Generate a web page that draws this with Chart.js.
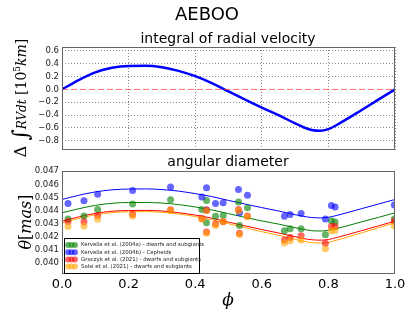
<!DOCTYPE html>
<html>
<head>
<meta charset="utf-8">
<title>AEBOO</title>
<script src="https://cdn.jsdelivr.net/npm/chart.js"></script>
<style>
  body { margin: 0; background: #fff; }
  #wrap { position: relative; width: 415px; height: 312px; }
  #wrap canvas { position: absolute; left: 0; top: 0; }
</style>
</head>
<body>
<div id="wrap">
  <canvas id="rvChart" width="415" height="312"></canvas>
  <canvas id="diamChart" width="415" height="312"></canvas>
</div>
<script>
// --- data ---
const xTicks = [0, 0.2, 0.4, 0.6, 0.8, 1.0];
const rvTicks = [-0.8, -0.6, -0.4, -0.2, 0.0, 0.2, 0.4, 0.6];
const diamTicks = [0.040, 0.041, 0.042, 0.043, 0.044, 0.045, 0.046, 0.047];

// integral of radial velocity
const phaseFit = [0, 0.05, 0.1, 0.15, 0.2, 0.25, 0.3, 0.35, 0.4, 0.45, 0.5, 0.55, 0.6, 0.65, 0.7, 0.725, 0.75, 0.775, 0.8, 0.825, 0.85, 0.9, 0.95, 1.0];
const rvInt = [0, 0.145, 0.265, 0.337, 0.366, 0.368, 0.347, 0.29, 0.207, 0.10, -0.03, -0.16, -0.285, -0.40, -0.53, -0.59, -0.632, -0.645, -0.62, -0.555, -0.48, -0.32, -0.16, 0];

// fitted angular diameter curves
const fitKervA = [0.04382, 0.04413, 0.04439, 0.04455, 0.04461, 0.04461, 0.04457, 0.04445, 0.04427, 0.04404, 0.04376, 0.04347, 0.04320, 0.04296, 0.04268, 0.04255, 0.04245, 0.04243, 0.04248, 0.04262, 0.04278, 0.04313, 0.04347, 0.04382];
const fitKervB = [0.04484, 0.04516, 0.04542, 0.04558, 0.04564, 0.04565, 0.04560, 0.04548, 0.04529, 0.04506, 0.04477, 0.04449, 0.04422, 0.04396, 0.04368, 0.04355, 0.04346, 0.04343, 0.04348, 0.04362, 0.04379, 0.04414, 0.04449, 0.04484];
const fitGraczyk = [0.04318, 0.04351, 0.04378, 0.04394, 0.04400, 0.04401, 0.04396, 0.04383, 0.04365, 0.04341, 0.04311, 0.04282, 0.04254, 0.04228, 0.04199, 0.04185, 0.04176, 0.04173, 0.04178, 0.04193, 0.04210, 0.04246, 0.04282, 0.04318];
const fitSalsi = [0.04306, 0.04339, 0.04367, 0.04384, 0.04390, 0.04391, 0.04386, 0.04373, 0.04354, 0.04329, 0.04299, 0.04268, 0.04238, 0.04210, 0.04179, 0.04164, 0.04154, 0.04151, 0.04156, 0.04173, 0.04191, 0.04229, 0.04268, 0.04306];

// observed angular diameters
const phaseObs = [0.018, 0.066, 0.107, 0.212, 0.326, 0.42, 0.434, 0.434, 0.461, 0.484, 0.53, 0.533, 0.557, 0.668, 0.685, 0.718, 0.791, 0.809, 0.82, 0.998];
const obsKervA = [0.04334, 0.04357, 0.04408, 0.04449, 0.04482, 0.04408, 0.04476, 0.04306, 0.04355, 0.04362, 0.04464, 0.04286, 0.04421, 0.04245, 0.04261, 0.04261, 0.04215, 0.04322, 0.04312, 0.04335];
const obsKervB = [0.04453, 0.04474, 0.04525, 0.04553, 0.04580, 0.04504, 0.04573, 0.04403, 0.04453, 0.04460, 0.04560, 0.04383, 0.04517, 0.04355, 0.04370, 0.04377, 0.04334, 0.04438, 0.04426, 0.04441];
const obsGraczyk = [0.04316, 0.04314, 0.04362, 0.04372, 0.04405, 0.04340, 0.04403, 0.04235, 0.04296, 0.04314, 0.04408, 0.04225, 0.04357, 0.04174, 0.04194, 0.04207, 0.04149, 0.04278, 0.04278, 0.04320];
const obsSalsi = [0.04278, 0.04281, 0.04332, 0.04357, 0.04400, 0.04332, 0.04398, 0.04225, 0.04286, 0.04316, 0.04398, 0.04217, 0.04352, 0.04151, 0.04169, 0.04174, 0.04108, 0.04245, 0.04248, 0.04281];

const seriesNames = [
  'Kervella et al. (2004a) - dwarfs and subgiants',
  'Kervella et al. (2004b) - Cepheids',
  'Graczyk et al. (2021) - dwarfs and subgiants',
  'Salsi et al. (2021) - dwarfs and subgiants'
];
const lineColors = ['#008000', '#0000ff', '#ff0000', '#ffa500'];
const dotColors = ['rgba(0,128,0,0.6)', 'rgba(0,0,255,0.6)', 'rgba(255,0,0,0.6)', 'rgba(255,165,0,0.6)'];

Chart.defaults.font.family = "'DejaVu Sans', sans-serif";
Chart.defaults.color = '#000';

const pts = (xs, ys) => xs.map((x, i) => ({ x: x, y: ys[i] }));
const setTicks = arr => scale => { scale.ticks = arr.map(v => ({ value: v })); };
const fmt = d => v => v.toFixed(d).replace('-', '\u2212');

function drawFrame(chart) {
  const a = chart.chartArea, ctx = chart.ctx;
  ctx.save();
  ctx.strokeStyle = '#666';
  ctx.lineWidth = 1;
  ctx.strokeRect(a.left + 0.5, a.top + 0.5, a.right - a.left - 1, a.bottom - a.top - 1);
  ctx.restore();
}

// draws text pieces one after another along a vertical baseline
function drawVertical(ctx, x, yCenter, pieces) {
  ctx.save();
  let total = 0;
  pieces.forEach(p => { ctx.font = p.font; p.w = ctx.measureText(p.t).width; total += p.w; });
  ctx.translate(x, yCenter);
  ctx.rotate(-Math.PI / 2);
  ctx.fillStyle = '#000';
  ctx.textBaseline = 'alphabetic';
  ctx.textAlign = 'left';
  let cx = -total / 2;
  pieces.forEach(p => {
    ctx.font = p.font;
    ctx.fillText(p.t, cx, p.dy || 0);
    cx += p.w;
  });
  ctx.restore();
}

const rvDecor = {
  id: 'rvDecor',
  afterDraw(chart) {
    const ctx = chart.ctx;
    drawFrame(chart);
    ctx.save();
    ctx.fillStyle = '#000';
    ctx.textAlign = 'center';
    ctx.textBaseline = 'alphabetic';
    ctx.font = "18px 'DejaVu Sans'";
    ctx.fillText('AEBOO', 207, 20);
    ctx.font = "14px 'DejaVu Sans'";
    ctx.fillText('integral of radial velocity', 228, 43);
    ctx.restore();
    drawVertical(ctx, 26, 98, [
      { t: 'Δ ', font: "16px 'DejaVu Serif'" },
      { t: '∫', font: "22px 'DejaVu Serif'", dy: 2 },
      { t: 'RVdt', font: "italic 12px 'DejaVu Serif'" },
      { t: ' [10', font: "14px 'DejaVu Serif'" },
      { t: '5', font: "9px 'DejaVu Serif'", dy: -6 },
      { t: 'km', font: "italic 14px 'DejaVu Serif'" },
      { t: ']', font: "14px 'DejaVu Serif'" }
    ]);
  }
};

const diamDecor = {
  id: 'diamDecor',
  afterDraw(chart) {
    const ctx = chart.ctx;
    drawFrame(chart);
    ctx.save();
    ctx.fillStyle = '#000';
    ctx.textAlign = 'center';
    ctx.textBaseline = 'alphabetic';
    ctx.font = "14px 'DejaVu Sans'";
    ctx.fillText('angular diameter', 228, 166);
    ctx.font = "italic 17px 'DejaVu Serif'";
    ctx.fillText('ϕ', 228, 305);

    // legend box inside the plot
    const bx = 64, by = 238, bw = 135, bh = 35;
    ctx.fillStyle = '#fff';
    ctx.fillRect(bx, by, bw, bh);
    ctx.strokeStyle = '#000';
    ctx.lineWidth = 1;
    ctx.strokeRect(bx + 0.5, by + 0.5, bw, bh);
    ctx.textAlign = 'left';
    ctx.textBaseline = 'middle';
    ctx.font = "5.4px 'DejaVu Sans'";
    seriesNames.forEach((name, i) => {
      const y = by + 7 + i * 7.2;
      ctx.fillStyle = dotColors[i];
      [68, 71.5, 75].forEach(px => {
        ctx.beginPath();
        ctx.arc(px, y, 3, 0, Math.PI * 2);
        ctx.fill();
      });
      ctx.fillStyle = '#222';
      ctx.fillText(name, 81, y);
    });
    ctx.restore();

    drawVertical(ctx, 31, 222, [
      { t: 'θ', font: "italic 16px 'DejaVu Serif'" },
      { t: '[', font: "16px 'DejaVu Serif'" },
      { t: 'mas', font: "italic 16px 'DejaVu Serif'" },
      { t: ']', font: "16px 'DejaVu Serif'" }
    ]);
  }
};

new Chart(document.getElementById('rvChart'), {
  type: 'line',
  data: {
    datasets: [
      {
        data: [{ x: 0, y: 0 }, { x: 1, y: 0 }],
        borderColor: 'rgba(255,60,60,0.75)',
        borderWidth: 1,
        borderDash: [6, 3],
        pointRadius: 0
      },
      {
        data: pts(phaseFit, rvInt),
        borderColor: '#0000ff',
        borderWidth: 2.5,
        pointRadius: 0,
        cubicInterpolationMode: 'monotone'
      }
    ]
  },
  options: {
    responsive: false,
    animation: false,
    devicePixelRatio: 1,
    layout: { padding: { left: 0, right: 20, top: 47, bottom: 162 } },
    plugins: { legend: { display: false }, tooltip: { enabled: false } },
    scales: {
      x: {
        type: 'linear', min: 0, max: 1,
        afterBuildTicks: setTicks(xTicks),
        afterFit: s => { s.height = 0; },
        ticks: { display: false },
        grid: { color: '#888', drawTicks: false },
        border: { display: false, dash: [1, 2] }
      },
      y: {
        min: -0.945, max: 0.662,
        afterBuildTicks: setTicks(rvTicks),
        afterFit: s => { s.width = 62; },
        ticks: { font: { size: 8.5 }, padding: 3, color: '#222', callback: fmt(1) },
        grid: { color: ctx => ctx.tick && ctx.tick.value === 0 ? 'rgba(0,0,0,0)' : '#888', drawTicks: false },
        border: { display: false, dash: [1, 2] }
      }
    }
  },
  plugins: [rvDecor]
});

const fits = [fitKervA, fitKervB, fitGraczyk, fitSalsi];
const obs = [obsKervA, obsKervB, obsGraczyk, obsSalsi];
const diamSets = [];
fits.forEach((f, i) => diamSets.push({
  type: 'line',
  data: pts(phaseFit, f),
  borderColor: lineColors[i],
  borderWidth: 1,
  pointRadius: 0,
  cubicInterpolationMode: 'monotone',
  order: 10
}));
obs.forEach((o, i) => diamSets.push({
  type: 'scatter',
  label: seriesNames[i],
  data: pts(phaseObs, o),
  backgroundColor: dotColors[i],
  borderWidth: 0,
  pointRadius: 3.5,
  order: 4 - i
}));

new Chart(document.getElementById('diamChart'), {
  type: 'scatter',
  data: { datasets: diamSets },
  options: {
    responsive: false,
    animation: false,
    devicePixelRatio: 1,
    layout: { padding: { left: 0, right: 20, top: 171, bottom: 0 } },
    plugins: { legend: { display: false }, tooltip: { enabled: false } },
    scales: {
      x: {
        type: 'linear', min: 0, max: 1,
        afterBuildTicks: setTicks(xTicks),
        afterFit: s => { s.height = 38; },
        ticks: { font: { size: 13 }, padding: 3, color: '#000', callback: fmt(1) },
        grid: { display: false, drawTicks: false },
        border: { display: false }
      },
      y: {
        min: 0.03914, max: 0.04702,
        afterBuildTicks: setTicks(diamTicks),
        afterFit: s => { s.width = 62; },
        ticks: { font: { size: 8.5 }, padding: 3, color: '#222', callback: fmt(3) },
        grid: { display: false, drawTicks: false },
        border: { display: false }
      }
    }
  },
  plugins: [diamDecor]
});
</script>
</body>
</html>
